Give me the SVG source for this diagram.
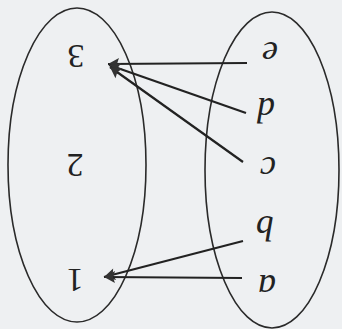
<svg xmlns="http://www.w3.org/2000/svg" width="342" height="329" viewBox="0 0 342 329">
<style>
.set{fill:none;stroke:#2a2a2a;stroke-width:1.6}
.edge{stroke:#222;stroke-width:2.2;fill:none;marker-start:url(#head)}
.num{font-family:"Liberation Serif",serif;font-size:34px;fill:#222;text-anchor:middle}
.let{font-family:"Liberation Serif",serif;font-style:italic;font-size:36px;fill:#222;text-anchor:middle}
</style>
<defs>
<marker id="head" markerUnits="userSpaceOnUse" markerWidth="16" markerHeight="14" refX="0" refY="0" orient="auto" overflow="visible">
<path d="M0,0 L11,-6 L9,0 L11,6 Z" fill="#333"/>
</marker>
</defs>
<rect width="342" height="329" fill="#eef0f2"/>
<g id="set-left"><ellipse class="set" cx="77" cy="165" rx="69" ry="157"/></g>
<g id="set-right"><ellipse class="set" cx="272" cy="170" rx="67" ry="158"/></g>
<g id="n3"><text class="num" transform="rotate(180 76 45)" x="76" y="45">3</text></g>
<g id="n2"><text class="num" transform="rotate(180 75 154)" x="75" y="154">2</text></g>
<g id="n1"><text class="num" transform="rotate(180 75 269)" x="75" y="269">1</text></g>
<g id="ne"><text class="let" transform="rotate(180 270 42)" x="270" y="42">e</text></g>
<g id="nd"><text class="let" transform="rotate(180 266 98)" x="266" y="98">d</text></g>
<g id="nc"><text class="let" transform="rotate(180 268 157)" x="268" y="157">c</text></g>
<g id="nb"><text class="let" transform="rotate(180 265 216)" x="265" y="216">b</text></g>
<g id="na"><text class="let" transform="rotate(180 267 275)" x="267" y="275">a</text></g>
<g id="connectors">
<line class="edge" x1="108" y1="64" x2="247" y2="63"/>
<line class="edge" x1="109" y1="65" x2="246" y2="113"/>
<line class="edge" x1="110" y1="67" x2="243" y2="162"/>
<line class="edge" x1="104" y1="277" x2="243" y2="241"/>
<line class="edge" x1="104" y1="277" x2="242" y2="278"/>
</g>
</svg>
